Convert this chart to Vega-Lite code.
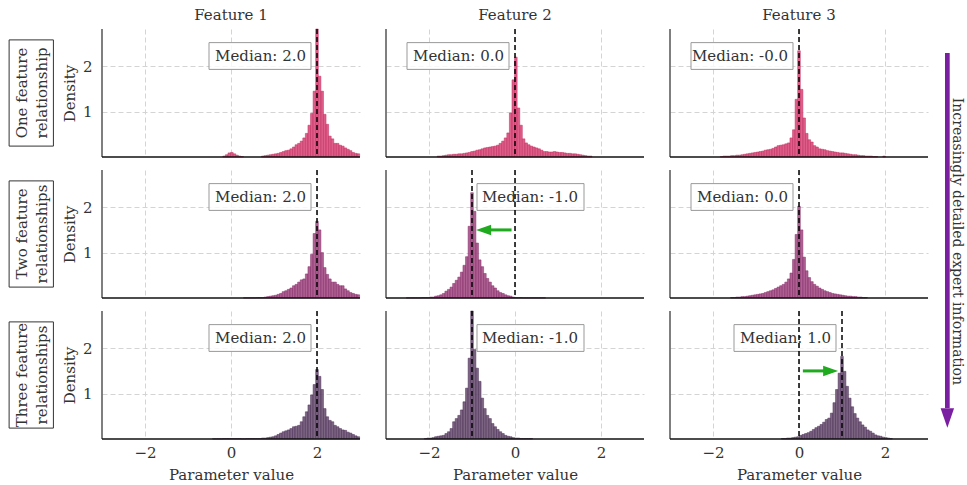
{
"$schema": "https://vega.github.io/schema/vega-lite/v6.json",
"padding": {"left": 8, "top": 8, "right": 0, "bottom": 2},
"bounds": "flush",
"spacing": {"row": 13, "column": 26},
"data": {"values": [
{"r":1,"c":1,"x":-0.16,"d":0.02},{"r":1,"c":1,"x":-0.10,"d":0.05},{"r":1,"c":1,"x":-0.04,"d":0.09},{"r":1,"c":1,"x":0.02,"d":0.1},{"r":1,"c":1,"x":0.08,"d":0.07},{"r":1,"c":1,"x":0.14,"d":0.04},{"r":1,"c":1,"x":0.20,"d":0.02},{"r":1,"c":1,"x":0.26,"d":0.01},
{"r":1,"c":1,"x":0.74,"d":0.02},{"r":1,"c":1,"x":0.80,"d":0.03},{"r":1,"c":1,"x":0.86,"d":0.04},{"r":1,"c":1,"x":0.92,"d":0.05},{"r":1,"c":1,"x":0.98,"d":0.06},{"r":1,"c":1,"x":1.04,"d":0.07},{"r":1,"c":1,"x":1.10,"d":0.08},{"r":1,"c":1,"x":1.16,"d":0.1},{"r":1,"c":1,"x":1.22,"d":0.12},{"r":1,"c":1,"x":1.28,"d":0.14},{"r":1,"c":1,"x":1.34,"d":0.15},{"r":1,"c":1,"x":1.40,"d":0.18},{"r":1,"c":1,"x":1.46,"d":0.22},{"r":1,"c":1,"x":1.52,"d":0.27},{"r":1,"c":1,"x":1.58,"d":0.3},{"r":1,"c":1,"x":1.64,"d":0.35},{"r":1,"c":1,"x":1.70,"d":0.42},{"r":1,"c":1,"x":1.76,"d":0.52},{"r":1,"c":1,"x":1.82,"d":0.7},{"r":1,"c":1,"x":1.88,"d":0.96},{"r":1,"c":1,"x":1.94,"d":1.45},{"r":1,"c":1,"x":2.00,"d":2.82},{"r":1,"c":1,"x":2.06,"d":1.78},{"r":1,"c":1,"x":2.12,"d":1.45},{"r":1,"c":1,"x":2.18,"d":0.94},{"r":1,"c":1,"x":2.24,"d":0.72},{"r":1,"c":1,"x":2.30,"d":0.46},{"r":1,"c":1,"x":2.36,"d":0.4},{"r":1,"c":1,"x":2.42,"d":0.3},{"r":1,"c":1,"x":2.48,"d":0.3},{"r":1,"c":1,"x":2.54,"d":0.26},{"r":1,"c":1,"x":2.60,"d":0.24},{"r":1,"c":1,"x":2.66,"d":0.2},{"r":1,"c":1,"x":2.72,"d":0.17},{"r":1,"c":1,"x":2.78,"d":0.14},{"r":1,"c":1,"x":2.84,"d":0.1},{"r":1,"c":1,"x":2.90,"d":0.08},{"r":1,"c":1,"x":2.96,"d":0.07},

{"r":1,"c":2,"x":-1.78,"d":0.02},{"r":1,"c":2,"x":-1.72,"d":0.02},{"r":1,"c":2,"x":-1.66,"d":0.03},{"r":1,"c":2,"x":-1.60,"d":0.04},{"r":1,"c":2,"x":-1.54,"d":0.05},{"r":1,"c":2,"x":-1.48,"d":0.05},{"r":1,"c":2,"x":-1.42,"d":0.06},{"r":1,"c":2,"x":-1.36,"d":0.06},{"r":1,"c":2,"x":-1.30,"d":0.07},{"r":1,"c":2,"x":-1.24,"d":0.07},{"r":1,"c":2,"x":-1.18,"d":0.08},{"r":1,"c":2,"x":-1.12,"d":0.09},{"r":1,"c":2,"x":-1.06,"d":0.1},{"r":1,"c":2,"x":-1.00,"d":0.12},{"r":1,"c":2,"x":-0.94,"d":0.13},{"r":1,"c":2,"x":-0.88,"d":0.15},{"r":1,"c":2,"x":-0.82,"d":0.16},{"r":1,"c":2,"x":-0.76,"d":0.18},{"r":1,"c":2,"x":-0.70,"d":0.2},{"r":1,"c":2,"x":-0.64,"d":0.21},{"r":1,"c":2,"x":-0.58,"d":0.22},{"r":1,"c":2,"x":-0.52,"d":0.23},{"r":1,"c":2,"x":-0.46,"d":0.24},{"r":1,"c":2,"x":-0.40,"d":0.26},{"r":1,"c":2,"x":-0.34,"d":0.3},{"r":1,"c":2,"x":-0.28,"d":0.35},{"r":1,"c":2,"x":-0.22,"d":0.42},{"r":1,"c":2,"x":-0.16,"d":0.53},{"r":1,"c":2,"x":-0.10,"d":0.97},{"r":1,"c":2,"x":-0.04,"d":1.7},{"r":1,"c":2,"x":0.02,"d":2.2},{"r":1,"c":2,"x":0.08,"d":1.08},{"r":1,"c":2,"x":0.14,"d":0.7},{"r":1,"c":2,"x":0.20,"d":0.4},{"r":1,"c":2,"x":0.26,"d":0.31},{"r":1,"c":2,"x":0.32,"d":0.27},{"r":1,"c":2,"x":0.38,"d":0.24},{"r":1,"c":2,"x":0.44,"d":0.22},{"r":1,"c":2,"x":0.50,"d":0.2},{"r":1,"c":2,"x":0.56,"d":0.18},{"r":1,"c":2,"x":0.62,"d":0.15},{"r":1,"c":2,"x":0.68,"d":0.12},{"r":1,"c":2,"x":0.74,"d":0.12},{"r":1,"c":2,"x":0.80,"d":0.11},{"r":1,"c":2,"x":0.86,"d":0.11},{"r":1,"c":2,"x":0.92,"d":0.12},{"r":1,"c":2,"x":0.98,"d":0.11},{"r":1,"c":2,"x":1.04,"d":0.1},{"r":1,"c":2,"x":1.10,"d":0.1},{"r":1,"c":2,"x":1.16,"d":0.09},{"r":1,"c":2,"x":1.22,"d":0.08},{"r":1,"c":2,"x":1.28,"d":0.08},{"r":1,"c":2,"x":1.34,"d":0.07},{"r":1,"c":2,"x":1.40,"d":0.07},{"r":1,"c":2,"x":1.46,"d":0.06},{"r":1,"c":2,"x":1.52,"d":0.05},{"r":1,"c":2,"x":1.58,"d":0.04},{"r":1,"c":2,"x":1.64,"d":0.03},{"r":1,"c":2,"x":1.70,"d":0.02},{"r":1,"c":2,"x":1.76,"d":0.02},

{"r":1,"c":3,"x":-1.80,"d":0.01},{"r":1,"c":3,"x":-1.74,"d":0.02},{"r":1,"c":3,"x":-1.68,"d":0.02},{"r":1,"c":3,"x":-1.62,"d":0.02},{"r":1,"c":3,"x":-1.56,"d":0.03},{"r":1,"c":3,"x":-1.50,"d":0.03},{"r":1,"c":3,"x":-1.44,"d":0.04},{"r":1,"c":3,"x":-1.38,"d":0.04},{"r":1,"c":3,"x":-1.32,"d":0.05},{"r":1,"c":3,"x":-1.26,"d":0.06},{"r":1,"c":3,"x":-1.20,"d":0.07},{"r":1,"c":3,"x":-1.14,"d":0.08},{"r":1,"c":3,"x":-1.08,"d":0.09},{"r":1,"c":3,"x":-1.02,"d":0.1},{"r":1,"c":3,"x":-0.96,"d":0.11},{"r":1,"c":3,"x":-0.90,"d":0.12},{"r":1,"c":3,"x":-0.84,"d":0.13},{"r":1,"c":3,"x":-0.78,"d":0.15},{"r":1,"c":3,"x":-0.72,"d":0.16},{"r":1,"c":3,"x":-0.66,"d":0.17},{"r":1,"c":3,"x":-0.60,"d":0.19},{"r":1,"c":3,"x":-0.54,"d":0.22},{"r":1,"c":3,"x":-0.48,"d":0.25},{"r":1,"c":3,"x":-0.42,"d":0.26},{"r":1,"c":3,"x":-0.36,"d":0.27},{"r":1,"c":3,"x":-0.30,"d":0.29},{"r":1,"c":3,"x":-0.24,"d":0.31},{"r":1,"c":3,"x":-0.18,"d":0.42},{"r":1,"c":3,"x":-0.12,"d":0.6},{"r":1,"c":3,"x":-0.06,"d":1.27},{"r":1,"c":3,"x":0.00,"d":2.34},{"r":1,"c":3,"x":0.06,"d":1.49},{"r":1,"c":3,"x":0.12,"d":0.86},{"r":1,"c":3,"x":0.18,"d":0.52},{"r":1,"c":3,"x":0.24,"d":0.38},{"r":1,"c":3,"x":0.30,"d":0.33},{"r":1,"c":3,"x":0.36,"d":0.25},{"r":1,"c":3,"x":0.42,"d":0.22},{"r":1,"c":3,"x":0.48,"d":0.18},{"r":1,"c":3,"x":0.54,"d":0.17},{"r":1,"c":3,"x":0.60,"d":0.16},{"r":1,"c":3,"x":0.66,"d":0.14},{"r":1,"c":3,"x":0.72,"d":0.13},{"r":1,"c":3,"x":0.78,"d":0.12},{"r":1,"c":3,"x":0.84,"d":0.11},{"r":1,"c":3,"x":0.90,"d":0.1},{"r":1,"c":3,"x":0.96,"d":0.09},{"r":1,"c":3,"x":1.02,"d":0.09},{"r":1,"c":3,"x":1.08,"d":0.08},{"r":1,"c":3,"x":1.14,"d":0.07},{"r":1,"c":3,"x":1.20,"d":0.06},{"r":1,"c":3,"x":1.26,"d":0.05},{"r":1,"c":3,"x":1.32,"d":0.05},{"r":1,"c":3,"x":1.38,"d":0.04},{"r":1,"c":3,"x":1.44,"d":0.03},{"r":1,"c":3,"x":1.50,"d":0.03},{"r":1,"c":3,"x":1.56,"d":0.02},{"r":1,"c":3,"x":1.62,"d":0.02},{"r":1,"c":3,"x":1.68,"d":0.02},{"r":1,"c":3,"x":1.74,"d":0.01},{"r":1,"c":3,"x":1.80,"d":0.01},{"r":1,"c":3,"x":1.98,"d":0.02},

{"r":2,"c":1,"x":0.32,"d":0.005},{"r":2,"c":1,"x":0.38,"d":0.005},{"r":2,"c":1,"x":0.44,"d":0.005},{"r":2,"c":1,"x":0.50,"d":0.005},{"r":2,"c":1,"x":0.56,"d":0.005},{"r":2,"c":1,"x":0.62,"d":0.01},{"r":2,"c":1,"x":0.68,"d":0.01},{"r":2,"c":1,"x":0.74,"d":0.01},{"r":2,"c":1,"x":0.80,"d":0.02},{"r":2,"c":1,"x":0.86,"d":0.03},{"r":2,"c":1,"x":0.92,"d":0.04},{"r":2,"c":1,"x":0.98,"d":0.05},{"r":2,"c":1,"x":1.04,"d":0.06},{"r":2,"c":1,"x":1.10,"d":0.08},{"r":2,"c":1,"x":1.16,"d":0.1},{"r":2,"c":1,"x":1.22,"d":0.14},{"r":2,"c":1,"x":1.28,"d":0.16},{"r":2,"c":1,"x":1.34,"d":0.19},{"r":2,"c":1,"x":1.40,"d":0.22},{"r":2,"c":1,"x":1.46,"d":0.27},{"r":2,"c":1,"x":1.52,"d":0.3},{"r":2,"c":1,"x":1.58,"d":0.35},{"r":2,"c":1,"x":1.64,"d":0.4},{"r":2,"c":1,"x":1.70,"d":0.42},{"r":2,"c":1,"x":1.76,"d":0.53},{"r":2,"c":1,"x":1.82,"d":0.69},{"r":2,"c":1,"x":1.88,"d":0.96},{"r":2,"c":1,"x":1.94,"d":1.42},{"r":2,"c":1,"x":2.00,"d":1.69},{"r":2,"c":1,"x":2.06,"d":1.5},{"r":2,"c":1,"x":2.12,"d":1.0},{"r":2,"c":1,"x":2.18,"d":0.67},{"r":2,"c":1,"x":2.24,"d":0.52},{"r":2,"c":1,"x":2.30,"d":0.42},{"r":2,"c":1,"x":2.36,"d":0.35},{"r":2,"c":1,"x":2.42,"d":0.35},{"r":2,"c":1,"x":2.48,"d":0.3},{"r":2,"c":1,"x":2.54,"d":0.27},{"r":2,"c":1,"x":2.60,"d":0.27},{"r":2,"c":1,"x":2.66,"d":0.2},{"r":2,"c":1,"x":2.72,"d":0.16},{"r":2,"c":1,"x":2.78,"d":0.12},{"r":2,"c":1,"x":2.84,"d":0.1},{"r":2,"c":1,"x":2.90,"d":0.08},{"r":2,"c":1,"x":2.96,"d":0.07},

{"r":2,"c":2,"x":-2.50,"d":0.005},{"r":2,"c":2,"x":-2.44,"d":0.005},{"r":2,"c":2,"x":-2.38,"d":0.005},{"r":2,"c":2,"x":-2.32,"d":0.005},{"r":2,"c":2,"x":-2.26,"d":0.005},{"r":2,"c":2,"x":-2.20,"d":0.005},{"r":2,"c":2,"x":-2.14,"d":0.01},{"r":2,"c":2,"x":-2.08,"d":0.01},{"r":2,"c":2,"x":-2.02,"d":0.01},{"r":2,"c":2,"x":-1.96,"d":0.02},{"r":2,"c":2,"x":-1.90,"d":0.02},{"r":2,"c":2,"x":-1.84,"d":0.04},{"r":2,"c":2,"x":-1.78,"d":0.05},{"r":2,"c":2,"x":-1.72,"d":0.07},{"r":2,"c":2,"x":-1.66,"d":0.1},{"r":2,"c":2,"x":-1.60,"d":0.15},{"r":2,"c":2,"x":-1.54,"d":0.19},{"r":2,"c":2,"x":-1.48,"d":0.24},{"r":2,"c":2,"x":-1.42,"d":0.32},{"r":2,"c":2,"x":-1.36,"d":0.39},{"r":2,"c":2,"x":-1.30,"d":0.46},{"r":2,"c":2,"x":-1.24,"d":0.57},{"r":2,"c":2,"x":-1.18,"d":0.72},{"r":2,"c":2,"x":-1.12,"d":0.91},{"r":2,"c":2,"x":-1.06,"d":1.58},{"r":2,"c":2,"x":-1.00,"d":2.32},{"r":2,"c":2,"x":-0.94,"d":1.91},{"r":2,"c":2,"x":-0.88,"d":1.21},{"r":2,"c":2,"x":-0.82,"d":0.84},{"r":2,"c":2,"x":-0.76,"d":0.69},{"r":2,"c":2,"x":-0.70,"d":0.54},{"r":2,"c":2,"x":-0.64,"d":0.43},{"r":2,"c":2,"x":-0.58,"d":0.35},{"r":2,"c":2,"x":-0.52,"d":0.27},{"r":2,"c":2,"x":-0.46,"d":0.22},{"r":2,"c":2,"x":-0.40,"d":0.16},{"r":2,"c":2,"x":-0.34,"d":0.12},{"r":2,"c":2,"x":-0.28,"d":0.1},{"r":2,"c":2,"x":-0.22,"d":0.07},{"r":2,"c":2,"x":-0.16,"d":0.05},{"r":2,"c":2,"x":-0.10,"d":0.04},{"r":2,"c":2,"x":-0.04,"d":0.02},{"r":2,"c":2,"x":0.02,"d":0.01},{"r":2,"c":2,"x":0.08,"d":0.01},{"r":2,"c":2,"x":0.14,"d":0.01},{"r":2,"c":2,"x":0.20,"d":0.005},{"r":2,"c":2,"x":0.26,"d":0.005},{"r":2,"c":2,"x":0.32,"d":0.005},{"r":2,"c":2,"x":0.38,"d":0.005},{"r":2,"c":2,"x":0.44,"d":0.005},{"r":2,"c":2,"x":0.50,"d":0.005},{"r":2,"c":2,"x":0.56,"d":0.005},{"r":2,"c":2,"x":0.62,"d":0.005},{"r":2,"c":2,"x":0.68,"d":0.005},

{"r":2,"c":3,"x":-1.56,"d":0.01},{"r":2,"c":3,"x":-1.50,"d":0.01},{"r":2,"c":3,"x":-1.44,"d":0.02},{"r":2,"c":3,"x":-1.38,"d":0.02},{"r":2,"c":3,"x":-1.32,"d":0.03},{"r":2,"c":3,"x":-1.26,"d":0.03},{"r":2,"c":3,"x":-1.20,"d":0.04},{"r":2,"c":3,"x":-1.14,"d":0.05},{"r":2,"c":3,"x":-1.08,"d":0.06},{"r":2,"c":3,"x":-1.02,"d":0.07},{"r":2,"c":3,"x":-0.96,"d":0.08},{"r":2,"c":3,"x":-0.90,"d":0.09},{"r":2,"c":3,"x":-0.84,"d":0.1},{"r":2,"c":3,"x":-0.78,"d":0.12},{"r":2,"c":3,"x":-0.72,"d":0.14},{"r":2,"c":3,"x":-0.66,"d":0.16},{"r":2,"c":3,"x":-0.60,"d":0.18},{"r":2,"c":3,"x":-0.54,"d":0.21},{"r":2,"c":3,"x":-0.48,"d":0.24},{"r":2,"c":3,"x":-0.42,"d":0.27},{"r":2,"c":3,"x":-0.36,"d":0.3},{"r":2,"c":3,"x":-0.30,"d":0.35},{"r":2,"c":3,"x":-0.24,"d":0.42},{"r":2,"c":3,"x":-0.18,"d":0.55},{"r":2,"c":3,"x":-0.12,"d":0.85},{"r":2,"c":3,"x":-0.06,"d":1.4},{"r":2,"c":3,"x":0.00,"d":2.02},{"r":2,"c":3,"x":0.06,"d":1.5},{"r":2,"c":3,"x":0.12,"d":0.9},{"r":2,"c":3,"x":0.18,"d":0.6},{"r":2,"c":3,"x":0.24,"d":0.45},{"r":2,"c":3,"x":0.30,"d":0.36},{"r":2,"c":3,"x":0.36,"d":0.3},{"r":2,"c":3,"x":0.42,"d":0.26},{"r":2,"c":3,"x":0.48,"d":0.22},{"r":2,"c":3,"x":0.54,"d":0.19},{"r":2,"c":3,"x":0.60,"d":0.16},{"r":2,"c":3,"x":0.66,"d":0.14},{"r":2,"c":3,"x":0.72,"d":0.12},{"r":2,"c":3,"x":0.78,"d":0.1},{"r":2,"c":3,"x":0.84,"d":0.09},{"r":2,"c":3,"x":0.90,"d":0.08},{"r":2,"c":3,"x":0.96,"d":0.07},{"r":2,"c":3,"x":1.02,"d":0.06},{"r":2,"c":3,"x":1.08,"d":0.05},{"r":2,"c":3,"x":1.14,"d":0.04},{"r":2,"c":3,"x":1.20,"d":0.04},{"r":2,"c":3,"x":1.26,"d":0.03},{"r":2,"c":3,"x":1.32,"d":0.03},{"r":2,"c":3,"x":1.38,"d":0.02},{"r":2,"c":3,"x":1.44,"d":0.02},{"r":2,"c":3,"x":1.50,"d":0.01},{"r":2,"c":3,"x":1.56,"d":0.01},

{"r":3,"c":1,"x":-0.40,"d":0.005},{"r":3,"c":1,"x":-0.34,"d":0.005},{"r":3,"c":1,"x":-0.28,"d":0.005},{"r":3,"c":1,"x":-0.22,"d":0.005},{"r":3,"c":1,"x":-0.16,"d":0.01},{"r":3,"c":1,"x":-0.10,"d":0.01},{"r":3,"c":1,"x":-0.04,"d":0.01},{"r":3,"c":1,"x":0.02,"d":0.01},{"r":3,"c":1,"x":0.08,"d":0.01},{"r":3,"c":1,"x":0.14,"d":0.01},{"r":3,"c":1,"x":0.20,"d":0.01},{"r":3,"c":1,"x":0.26,"d":0.005},{"r":3,"c":1,"x":0.32,"d":0.005},{"r":3,"c":1,"x":0.38,"d":0.01},{"r":3,"c":1,"x":0.44,"d":0.01},{"r":3,"c":1,"x":0.50,"d":0.01},{"r":3,"c":1,"x":0.56,"d":0.01},{"r":3,"c":1,"x":0.62,"d":0.01},{"r":3,"c":1,"x":0.68,"d":0.01},{"r":3,"c":1,"x":0.74,"d":0.02},{"r":3,"c":1,"x":0.80,"d":0.02},{"r":3,"c":1,"x":0.86,"d":0.03},{"r":3,"c":1,"x":0.92,"d":0.04},{"r":3,"c":1,"x":0.98,"d":0.05},{"r":3,"c":1,"x":1.04,"d":0.07},{"r":3,"c":1,"x":1.10,"d":0.1},{"r":3,"c":1,"x":1.16,"d":0.13},{"r":3,"c":1,"x":1.22,"d":0.16},{"r":3,"c":1,"x":1.28,"d":0.18},{"r":3,"c":1,"x":1.34,"d":0.2},{"r":3,"c":1,"x":1.40,"d":0.23},{"r":3,"c":1,"x":1.46,"d":0.27},{"r":3,"c":1,"x":1.52,"d":0.28},{"r":3,"c":1,"x":1.58,"d":0.3},{"r":3,"c":1,"x":1.64,"d":0.38},{"r":3,"c":1,"x":1.70,"d":0.49},{"r":3,"c":1,"x":1.76,"d":0.6},{"r":3,"c":1,"x":1.82,"d":0.75},{"r":3,"c":1,"x":1.88,"d":0.97},{"r":3,"c":1,"x":1.94,"d":1.2},{"r":3,"c":1,"x":2.00,"d":1.53},{"r":3,"c":1,"x":2.06,"d":1.38},{"r":3,"c":1,"x":2.12,"d":1.09},{"r":3,"c":1,"x":2.18,"d":0.67},{"r":3,"c":1,"x":2.24,"d":0.49},{"r":3,"c":1,"x":2.30,"d":0.41},{"r":3,"c":1,"x":2.36,"d":0.38},{"r":3,"c":1,"x":2.42,"d":0.3},{"r":3,"c":1,"x":2.48,"d":0.27},{"r":3,"c":1,"x":2.54,"d":0.23},{"r":3,"c":1,"x":2.60,"d":0.2},{"r":3,"c":1,"x":2.66,"d":0.19},{"r":3,"c":1,"x":2.72,"d":0.15},{"r":3,"c":1,"x":2.78,"d":0.13},{"r":3,"c":1,"x":2.84,"d":0.1},{"r":3,"c":1,"x":2.90,"d":0.07},{"r":3,"c":1,"x":2.96,"d":0.05},

{"r":3,"c":2,"x":-2.08,"d":0.01},{"r":3,"c":2,"x":-2.02,"d":0.02},{"r":3,"c":2,"x":-1.96,"d":0.02},{"r":3,"c":2,"x":-1.90,"d":0.03},{"r":3,"c":2,"x":-1.84,"d":0.05},{"r":3,"c":2,"x":-1.78,"d":0.06},{"r":3,"c":2,"x":-1.72,"d":0.07},{"r":3,"c":2,"x":-1.66,"d":0.08},{"r":3,"c":2,"x":-1.60,"d":0.12},{"r":3,"c":2,"x":-1.54,"d":0.16},{"r":3,"c":2,"x":-1.48,"d":0.23},{"r":3,"c":2,"x":-1.42,"d":0.38},{"r":3,"c":2,"x":-1.36,"d":0.45},{"r":3,"c":2,"x":-1.30,"d":0.52},{"r":3,"c":2,"x":-1.24,"d":0.64},{"r":3,"c":2,"x":-1.18,"d":0.82},{"r":3,"c":2,"x":-1.12,"d":1.12},{"r":3,"c":2,"x":-1.06,"d":1.78},{"r":3,"c":2,"x":-1.00,"d":2.82},{"r":3,"c":2,"x":-0.94,"d":1.97},{"r":3,"c":2,"x":-0.88,"d":1.56},{"r":3,"c":2,"x":-0.82,"d":1.27},{"r":3,"c":2,"x":-0.76,"d":0.9},{"r":3,"c":2,"x":-0.70,"d":0.67},{"r":3,"c":2,"x":-0.64,"d":0.52},{"r":3,"c":2,"x":-0.58,"d":0.45},{"r":3,"c":2,"x":-0.52,"d":0.34},{"r":3,"c":2,"x":-0.46,"d":0.27},{"r":3,"c":2,"x":-0.40,"d":0.21},{"r":3,"c":2,"x":-0.34,"d":0.16},{"r":3,"c":2,"x":-0.28,"d":0.12},{"r":3,"c":2,"x":-0.22,"d":0.08},{"r":3,"c":2,"x":-0.16,"d":0.06},{"r":3,"c":2,"x":-0.10,"d":0.05},{"r":3,"c":2,"x":-0.04,"d":0.03},{"r":3,"c":2,"x":0.02,"d":0.02},{"r":3,"c":2,"x":0.08,"d":0.02},{"r":3,"c":2,"x":0.14,"d":0.01},{"r":3,"c":2,"x":0.20,"d":0.01},{"r":3,"c":2,"x":0.26,"d":0.01},{"r":3,"c":2,"x":0.32,"d":0.01},{"r":3,"c":2,"x":0.38,"d":0.01},

{"r":3,"c":3,"x":-0.38,"d":0.01},{"r":3,"c":3,"x":-0.32,"d":0.01},{"r":3,"c":3,"x":-0.26,"d":0.02},{"r":3,"c":3,"x":-0.20,"d":0.02},{"r":3,"c":3,"x":-0.14,"d":0.03},{"r":3,"c":3,"x":-0.08,"d":0.04},{"r":3,"c":3,"x":-0.02,"d":0.05},{"r":3,"c":3,"x":0.04,"d":0.08},{"r":3,"c":3,"x":0.10,"d":0.1},{"r":3,"c":3,"x":0.16,"d":0.12},{"r":3,"c":3,"x":0.22,"d":0.14},{"r":3,"c":3,"x":0.28,"d":0.17},{"r":3,"c":3,"x":0.34,"d":0.21},{"r":3,"c":3,"x":0.40,"d":0.25},{"r":3,"c":3,"x":0.46,"d":0.28},{"r":3,"c":3,"x":0.52,"d":0.32},{"r":3,"c":3,"x":0.58,"d":0.37},{"r":3,"c":3,"x":0.64,"d":0.43},{"r":3,"c":3,"x":0.70,"d":0.46},{"r":3,"c":3,"x":0.76,"d":0.57},{"r":3,"c":3,"x":0.82,"d":0.8},{"r":3,"c":3,"x":0.88,"d":1.09},{"r":3,"c":3,"x":0.94,"d":1.45},{"r":3,"c":3,"x":1.00,"d":1.82},{"r":3,"c":3,"x":1.06,"d":1.49},{"r":3,"c":3,"x":1.12,"d":1.16},{"r":3,"c":3,"x":1.18,"d":0.9},{"r":3,"c":3,"x":1.24,"d":0.71},{"r":3,"c":3,"x":1.30,"d":0.56},{"r":3,"c":3,"x":1.36,"d":0.46},{"r":3,"c":3,"x":1.42,"d":0.38},{"r":3,"c":3,"x":1.48,"d":0.31},{"r":3,"c":3,"x":1.54,"d":0.26},{"r":3,"c":3,"x":1.60,"d":0.2},{"r":3,"c":3,"x":1.66,"d":0.17},{"r":3,"c":3,"x":1.72,"d":0.13},{"r":3,"c":3,"x":1.78,"d":0.09},{"r":3,"c":3,"x":1.84,"d":0.07},{"r":3,"c":3,"x":1.90,"d":0.06},{"r":3,"c":3,"x":1.96,"d":0.04},{"r":3,"c":3,"x":2.02,"d":0.03},{"r":3,"c":3,"x":2.08,"d":0.02},{"r":3,"c":3,"x":2.14,"d":0.01},

{"r":1,"c":1,"m":2,"t":"Median: 2.0"},{"r":1,"c":2,"m":0,"t":"Median: 0.0"},{"r":1,"c":3,"m":0,"t":"Median: -0.0"},
{"r":2,"c":1,"m":2,"t":"Median: 2.0"},{"r":2,"c":2,"m":-1,"t":"Median: -1.0"},{"r":2,"c":3,"m":0,"t":"Median: 0.0"},
{"r":3,"c":1,"m":2,"t":"Median: 2.0"},{"r":3,"c":2,"m":-1,"t":"Median: -1.0"},{"r":3,"c":3,"m":1,"t":"Median: 1.0"},
{"r":2,"c":2,"ref":0},{"r":3,"c":3,"ref":0},
{"r":2,"c":2,"a0":-0.08,"a1":-0.73},{"r":3,"c":3,"a0":0.09,"a1":0.735},
{"r":1,"c":1,"lab":"One feature\nrelationship"},{"r":2,"c":1,"lab":"Two feature\nrelationships"},{"r":3,"c":1,"lab":"Three feature\nrelationships"},
{"r":1,"c":3,"side":"Increasingly detailed expert information"}
]},
"facet": {
  "row": {"field": "r", "type": "ordinal", "header": {"labels": false, "title": null}},
  "column": {"field": "c", "type": "ordinal", "header": {"title": null, "labelExpr": "'Feature ' + datum.value", "labelFont": "DejaVu Serif", "labelFontSize": 15, "labelColor": "#333333", "labelPadding": 6}}
},
"spec": {
  "width": 258,
  "height": 128,
  "layer": [
    {"transform": [{"filter": "datum.d != null"}],
     "mark": {"type": "bar", "orient": "vertical", "width": 2.6, "strokeWidth": 0.5, "fillOpacity": 0.9},
     "encoding": {
       "x": {"field": "x", "type": "quantitative", "title": "Parameter value", "scale": {"domain": [-3, 3], "nice": false, "zero": false, "padding": 0}, "axis": {"values": [-2, 0, 2], "title": "Parameter value"}},
       "y": {"field": "d", "type": "quantitative", "title": "Density", "scale": {"domain": [0, 2.82], "nice": false, "padding": 0}, "axis": {"values": [1, 2], "format": "d", "title": "Density"}},
       "fill": {"field": "r", "type": "nominal", "scale": {"domain": [1, 2, 3], "range": ["#dc4c7c", "#a54f86", "#6e5476"]}, "legend": null},
       "stroke": {"field": "r", "type": "nominal", "scale": {"domain": [1, 2, 3], "range": ["#bf2c5e", "#822a66", "#4b2d55"]}, "legend": null}
     }},
    {"transform": [{"filter": "datum.m != null"}],
     "mark": {"type": "rule", "color": "#555555", "strokeWidth": 1.5},
     "encoding": {"x": {"datum": -3}}},
    {"transform": [{"filter": "datum.m != null"}],
     "mark": {"type": "rule", "color": "#111111", "strokeWidth": 1.5},
     "encoding": {"y": {"datum": 0}}},
    {"transform": [{"filter": "datum.m != null && datum.m >= 0"}],
     "mark": {"type": "rect", "fill": "white", "fillOpacity": 0.8, "stroke": "#999999", "strokeWidth": 1, "xOffset": -108, "x2Offset": -6},
     "encoding": {"x": {"field": "m", "type": "quantitative", "title": "Parameter value"}, "x2": {"field": "m"}, "y": {"datum": 2.52}, "y2": {"datum": 1.93}}},
    {"transform": [{"filter": "datum.m != null && datum.m < 0"}],
     "mark": {"type": "rect", "fill": "white", "fillOpacity": 0.8, "stroke": "#999999", "strokeWidth": 1, "xOffset": 5, "x2Offset": 112},
     "encoding": {"x": {"field": "m", "type": "quantitative", "title": "Parameter value"}, "x2": {"field": "m"}, "y": {"datum": 2.52}, "y2": {"datum": 1.93}}},
    {"transform": [{"filter": "datum.m != null && datum.m >= 0"}],
     "mark": {"type": "text", "align": "right", "baseline": "middle", "xOffset": -11, "fontSize": 15, "font": "DejaVu Serif", "color": "#333333"},
     "encoding": {"x": {"field": "m", "type": "quantitative", "title": "Parameter value"}, "y": {"datum": 2.22}, "text": {"field": "t"}}},
    {"transform": [{"filter": "datum.m != null && datum.m < 0"}],
     "mark": {"type": "text", "align": "left", "baseline": "middle", "xOffset": 10, "fontSize": 15, "font": "DejaVu Serif", "color": "#333333"},
     "encoding": {"x": {"field": "m", "type": "quantitative", "title": "Parameter value"}, "y": {"datum": 2.22}, "text": {"field": "t"}}},
    {"transform": [{"filter": "datum.m != null"}],
     "mark": {"type": "rule", "color": "#000000", "strokeWidth": 1.5, "strokeDash": [5, 3]},
     "encoding": {"x": {"field": "m", "type": "quantitative", "title": "Parameter value"}}},
    {"transform": [{"filter": "datum.ref != null"}],
     "mark": {"type": "rule", "color": "#000000", "strokeWidth": 1.5, "strokeDash": [5, 3]},
     "encoding": {"x": {"field": "ref", "type": "quantitative", "title": "Parameter value"}}},
    {"transform": [{"filter": "datum.a0 != null"}],
     "mark": {"type": "rule", "color": "#1faa1f", "strokeWidth": 3},
     "encoding": {"x": {"field": "a0", "type": "quantitative", "title": "Parameter value"}, "x2": {"field": "a1"}, "y": {"datum": 1.5}}},
    {"transform": [{"filter": "datum.a0 != null && datum.a1 < datum.a0"}],
     "mark": {"type": "point", "shape": "M1,-0.7L-1,0L1,0.7Z", "size": 225, "filled": true, "opacity": 1, "color": "#1faa1f"},
     "encoding": {"x": {"field": "a1", "type": "quantitative", "title": "Parameter value"}, "y": {"datum": 1.5}}},
    {"transform": [{"filter": "datum.a0 != null && datum.a1 > datum.a0"}],
     "mark": {"type": "point", "shape": "M-1,-0.7L1,0L-1,0.7Z", "size": 225, "filled": true, "opacity": 1, "color": "#1faa1f"},
     "encoding": {"x": {"field": "a1", "type": "quantitative", "title": "Parameter value"}, "y": {"datum": 1.5}}},
    {"transform": [{"filter": "datum.lab != null"}],
     "mark": {"type": "rect", "fill": "white", "stroke": "#333333", "strokeWidth": 1},
     "encoding": {"x": {"datum": -5.16}, "x2": {"datum": -4.13}, "y": {"datum": 2.58}, "y2": {"datum": 0.24}}},
    {"transform": [{"filter": "datum.lab != null"}],
     "mark": {"type": "text", "angle": 270, "align": "center", "baseline": "middle", "lineBreak": "\n", "lineHeight": 20, "fontSize": 15, "font": "DejaVu Serif", "color": "#333333"},
     "encoding": {"x": {"datum": -4.87}, "y": {"datum": 1.41}, "text": {"field": "lab"}}},
    {"transform": [{"filter": "datum.side != null"}],
     "mark": {"type": "rule", "color": "#7b1fa2", "strokeWidth": 4.7},
     "encoding": {"x": {"datum": 3.45}, "y": {"datum": 2.29}, "y2": {"datum": -5.53}}},
    {"transform": [{"filter": "datum.side != null"}],
     "mark": {"type": "point", "shape": "M-0.7,-1L0.7,-1L0,1Z", "size": 372, "filled": true, "opacity": 1, "color": "#7b1fa2"},
     "encoding": {"x": {"datum": 3.45}, "y": {"datum": -5.75}}},
    {"transform": [{"filter": "datum.side != null"}],
     "mark": {"type": "text", "angle": 90, "align": "center", "baseline": "middle", "fontSize": 14, "font": "DejaVu Serif", "color": "#333333"},
     "encoding": {"x": {"datum": 3.675}, "y": {"datum": -1.86}, "text": {"field": "side"}}}
  ]
},
"config": {
  "view": {"stroke": null},
  "font": "DejaVu Serif",
  "axis": {
    "domain": false, "ticks": false, "grid": true, "gridDash": [5, 3], "gridColor": "#d4d4d4", "gridWidth": 1,
    "labelFont": "DejaVu Serif", "labelFontSize": 15, "labelColor": "#333333",
    "titleFont": "DejaVu Serif", "titleFontSize": 15, "titleFontWeight": "normal", "titleColor": "#333333"
  },
  "axisX": {"labelPadding": 6, "titlePadding": 7},
  "axisY": {"labelPadding": 10, "titlePadding": 5}
}
}
